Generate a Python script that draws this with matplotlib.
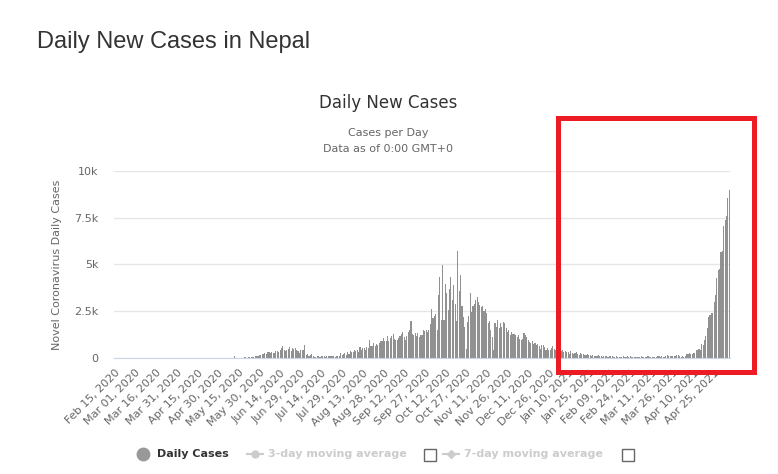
import pandas as pd
import matplotlib.pyplot as plt
from matplotlib.patches import Rectangle
from matplotlib.lines import Line2D

# daily new cases, Nepal, from Feb 15, 2020
start_date = '2020-02-15'
feb_may10_2020 = [0] * 37 + [
    1, 0, 1, 0, 1, 1, 0, 0, 1, 1,
    0, 1, 3, 0, 0, 0, 0, 0, 0, 3,
    0, 2, 0, 1, 14, 1, 0, 0, 0, 1,
    1, 0, 1, 3, 4, 0, 3, 0, 0, 1,
    2, 5, 0, 0, 3, 2, 0, 10, 8]
may_2020 = [9, 85, 14, 18, 26, 24, 16, 17, 27, 30, 25, 33, 40, 45, 48,
            53, 89, 125, 125, 178, 160]
jun_2020 = [214, 214, 267, 231, 303, 303, 267, 303, 267, 267, 392, 374, 338, 445, 534,
            623, 409, 356, 445, 481, 570, 392, 534, 481, 516, 409, 392, 267, 409, 445]
jul_2020 = [445, 712, 178, 214, 125, 178, 231, 89, 53, 53, 89, 125, 53, 125, 89, 89,
            53, 125, 125, 89, 124, 89, 124, 53, 89, 89, 124, 265, 177, 230, 265]
aug_2020 = [177, 301, 230, 354, 301, 301, 442, 354, 407, 301, 584, 442, 513, 531, 442, 566,
            513, 973, 655, 655, 797, 620, 761, 708, 797, 885, 885, 1062, 885, 885, 1186]
sep_2020 = [885, 1062, 1186, 1292, 1009, 938, 938, 1062, 1186, 1292, 1416, 1115, 973, 1150, 1416,
            1505, 1982, 1292, 1239, 1327, 1150, 1327, 1115, 1239, 1239, 1505, 1469, 1505, 1416, 1505]
oct_2020 = [1840, 2640, 2140, 2230, 2370, 1480, 3360, 4340, 2020, 4960, 2020, 3980, 3450, 2550, 3680,
            4340, 3090, 3890, 2880, 1980, 5743, 3600, 4430, 2770, 2180, 1660, 500, 1930, 2230, 3480, 2460]
nov_2020 = [2770, 2880, 3090, 3270, 3000, 2820, 2730, 2770, 2520, 2640, 2410, 1880, 1980, 1520, 1144,
            410, 1848, 1672, 2024, 1584, 1883, 1650, 1936, 1850, 1584, 1408, 1500, 1232, 1400, 1300]
dec_2020 = [1300, 1232, 1144, 1232, 1003, 970, 1003, 1355, 1232, 1144, 970, 880, 827, 933, 757, 792,
            704, 757, 616, 475, 704, 704, 581, 440, 528, 440, 405, 528, 651, 475, 440]
jan_2021 = [410, 475, 387, 352, 440, 299, 387, 317, 299, 229, 352, 264, 229, 264, 317, 229,
            176, 264, 211, 229, 176, 141, 229, 176, 141, 123, 176, 88, 123, 88, 141]
feb_2021 = [124, 89, 53, 89, 124, 89, 53, 89, 124, 89, 53, 53, 89, 53, 53, 53,
            53, 89, 53, 53, 89, 53, 89, 53, 40, 35, 42, 45]
mar_2021 = [38, 53, 89, 53, 40, 36, 53, 89, 53, 45, 38, 40, 36, 53, 89, 89,
            53, 89, 45, 53, 89, 177, 89, 124, 89, 124, 89, 124, 142, 160, 124]
apr_2021 = [53, 89, 36, 89, 196, 231, 267, 231, 231, 267, 267, 409, 445, 498, 409,
            765, 676, 943, 1175, 1602, 2189, 2278, 2403, 2403, 2990, 3346, 4290, 4717, 4735, 5660]
may_2021 = [5696, 7070, 7400, 7570, 8560, 8970]

cases = (feb_may10_2020 + may_2020 + jun_2020 + jul_2020 + aug_2020 + sep_2020 + oct_2020
         + nov_2020 + dec_2020 + jan_2021 + feb_2021 + mar_2021 + apr_2021 + may_2021)
dates = pd.date_range(start_date, periods=len(cases))
tick_step = 15
y_ticks = [0, 2500, 5000, 7500, 10000]
y_tick_labels = ['0', '2.5k', '5k', '7.5k', '10k']

W, H = 778, 474
fig = plt.figure(figsize=(W / 100, H / 100), dpi=100)
plt.rcParams['font.family'] = ['DejaVu Sans']

ax = fig.add_axes([114 / W, 1 - 358 / H, 616 / W, 187 / H])
ax.bar(range(len(cases)), cases, width=0.8, color='#919191', linewidth=0)
ax.set_xlim(-0.5, len(cases) - 0.5)
ax.set_ylim(0, 10000)

ax.set_yticks(y_ticks)
ax.set_yticklabels(y_tick_labels)
ax.yaxis.grid(True, color='#e6e6e6', linewidth=1)
ax.set_axisbelow(True)
ax.tick_params(axis='y', length=0, pad=11, labelsize=8, labelcolor='#666666')

tick_pos = list(range(0, len(cases), tick_step))
ax.set_xticks(tick_pos)
ax.set_xticklabels(dates[::tick_step].strftime('%b %d, %Y'), rotation=45, ha='right',
                   rotation_mode='anchor', fontsize=8, color='#666666')
ax.tick_params(axis='x', length=0, pad=7)

for s in ['top', 'right', 'left']:
    ax.spines[s].set_visible(False)
ax.spines['bottom'].set_color('#ccd6eb')

ax.set_ylabel('Novel Coronavirus Daily Cases', fontsize=8, color='#666666', labelpad=9)

# titles
fig.text(37 / W, 1 - 42 / H, 'Daily New Cases in Nepal', fontsize=17, color='#333333',
         family='Liberation Sans', va='center', ha='left')
fig.text(388 / W, 1 - 103 / H, 'Daily New Cases', fontsize=12, color='#333333', ha='center', va='center')
fig.text(388 / W, 1 - 133 / H, 'Cases per Day', fontsize=8, color='#666666', ha='center', va='center')
fig.text(388 / W, 1 - 149 / H, 'Data as of 0:00 GMT+0', fontsize=8, color='#666666', ha='center', va='center')

# legend
ly = 1 - 454 / H
fig.add_artist(Line2D([143 / W], [ly], marker='o', markersize=9, color='#999999', linestyle=''))
fig.text(157 / W, ly, 'Daily Cases', fontsize=8, fontweight='bold', color='#333333', va='center')
fig.add_artist(Line2D([247 / W, 263 / W], [ly, ly], color='#cccccc', linewidth=1.5))
fig.add_artist(Line2D([255 / W], [ly], marker='o', markersize=5, color='#cccccc', linestyle=''))
fig.text(268 / W, ly, '3-day moving average', fontsize=8, fontweight='bold', color='#cccccc', va='center')
fig.add_artist(Rectangle((424 / W, 1 - 461 / H), 12 / W, 12 / H, fill=False, edgecolor='#666666',
                         linewidth=1, transform=fig.transFigure))
fig.add_artist(Line2D([443 / W, 459 / W], [ly, ly], color='#cccccc', linewidth=1.5))
fig.add_artist(Line2D([451 / W], [ly], marker='D', markersize=4, color='#cccccc', linestyle=''))
fig.text(464 / W, ly, '7-day moving average', fontsize=8, fontweight='bold', color='#cccccc', va='center')
fig.add_artist(Rectangle((622 / W, 1 - 461 / H), 12 / W, 12 / H, fill=False, edgecolor='#666666',
                         linewidth=1, transform=fig.transFigure))

# red highlight box
fig.add_artist(Rectangle((557.5 / W, 1 - 371.5 / H), 196.5 / W, 254 / H, fill=False,
                         edgecolor='#ed1c24', linewidth=3.6, transform=fig.transFigure, zorder=10))

fig.savefig('out.png', dpi=100)
